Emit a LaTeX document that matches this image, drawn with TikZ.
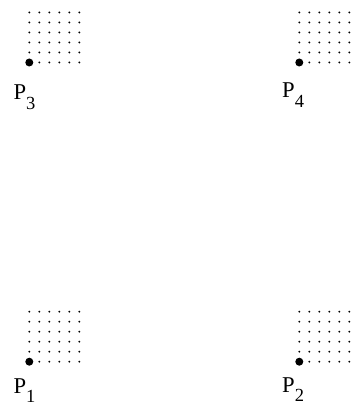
\documentclass[tikz,border=0pt]{standalone}
\usepackage{fontspec}
\setmainfont{Liberation Serif}
\begin{document}
\begin{tikzpicture}[x=1pt,y=1pt,
  bigdot/.style={circle,fill=black,inner sep=0pt,minimum size=8pt},
  plabel/.style={anchor=base west,inner sep=0pt,font=\fontsize{22.6}{24}\selectfont},
  dotgrid/.pic={\foreach \i in {0,...,5}{\foreach \j in {0,...,5}{\fill (\i*10,\j*10) circle (1.05);}}}]
\newcommand\psub[1]{\lower9.5pt\hbox{\fontsize{18.5}{18.5}\selectfont #1}}
\useasboundingbox (0,0) rectangle (353,404);
% top left
\pic at (29.3,341.5) {dotgrid};
\node[bigdot] (P3) at (29.3,341.5) {};
\node[plabel] (L3) at (13.3,304) {P\psub{3}};
% top right
\pic at (299.3,341.5) {dotgrid};
\node[bigdot] (P4) at (299.3,341.5) {};
\node[plabel] (L4) at (282,306) {P\psub{4}};
% bottom left
\pic at (29.3,42.3) {dotgrid};
\node[bigdot] (P1) at (29.3,42.3) {};
\node[plabel] (L1) at (13.3,10.5) {P\psub{1}};
% bottom right
\pic at (299.3,42.3) {dotgrid};
\node[bigdot] (P2) at (299.3,42.3) {};
\node[plabel] (L2) at (282,12) {P\psub{2}};
\end{tikzpicture}
\end{document}
